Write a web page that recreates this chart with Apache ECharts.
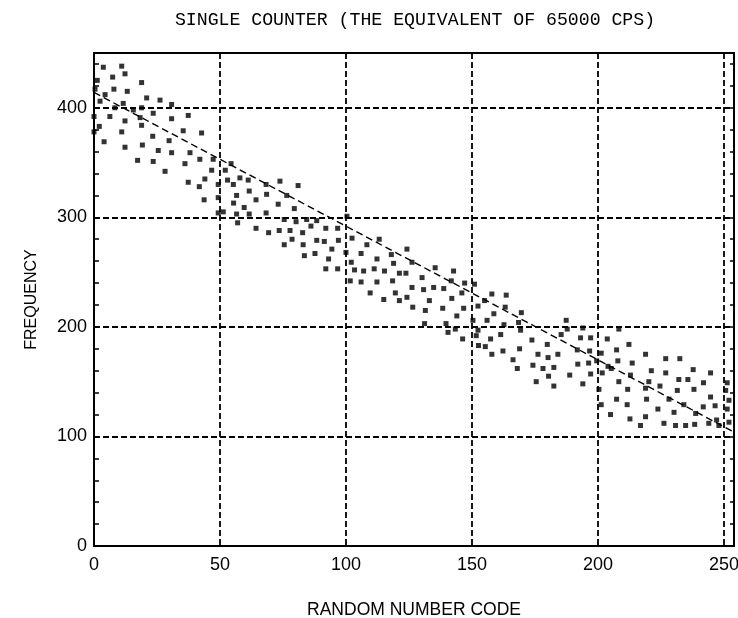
<!DOCTYPE html>
<html>
<head>
<meta charset="utf-8">
<script src="https://cdn.jsdelivr.net/npm/echarts@6/dist/echarts.min.js"></script>
<style>
html,body{margin:0;padding:0;background:#fff;}
#chart{width:738px;height:618px;}
</style>
</head>
<body>
<div id="chart"></div>
<script>
// Random number code (x) of each plotted point
const codes = [
  3.7,11,12.3,7.4,1.3,18.9,0.4,7.9,13.2,4.4,20.9,26.2,2.4,11.6,30.8,18.9,8.3,15.6,0,6.3,23.5,18.3,37.4,12.3,30.8,2.1,18.9,0,11,35.4,42.7,23.3,29.8,4,19.2,12.3,25.5,38.1,30.8,17.3,23.5,42,47.3,36.1,28.2,46.7,44,37.4,41.8,43.7,49.3,49.3,49.3,
  54.4,52.1,57.9,53,61.2,68.3,73.8,81,55.3,61.6,68.5,76.5,56.6,64.3,55.4,73.1,59.6,79.5,51.3,68.3,61.6,56.6,57,75.5,80.2,84.4,88.4,64.3,69.3,73.5,77.8,82.8,86.1,92,96.7,78.6,75.5,83,88.4,91.4,97,94.4,83.5,87.7,93.1,92,96.7,
  100.4,102.4,108.3,113.2,100,106,112.3,118,124.2,102.1,118.9,126.2,103.4,107,111.2,115.3,121.2,123.8,130.2,135.4,142.7,101.7,106,112.3,118.5,126.2,130.8,134.8,138.8,141.8,147.1,109.6,119.6,115,121.2,124.2,133.1,142,146,126.5,131.5,138.4,146.7,144,131.2,139.7,143.4,140.5,146.3,
  151,157.9,163.6,155,152.4,163.2,158.7,169.6,150.4,156,162.7,168.5,169.3,152.4,187.4,187.8,194,151.7,157.4,161.4,173.8,185.4,193.1,197.1,152.6,155.3,179.9,162.3,168.9,184.1,157.9,176.2,180.2,191.8,196.7,166.3,168,174.2,178.2,182.5,192,196.3,188.8,180.4,197.1,175.5,182.5,194,
  208.3,203.7,207.4,212.3,201.3,218.9,199.5,207.9,213.6,226.9,232.5,204,205.3,201.7,221.2,226.9,237.8,244.7,212.9,208.3,220.2,232.1,235.7,241.9,251.3,200.4,211.8,218.9,224.6,231.5,238.1,250.7,219.3,228.2,244.7,252,207.4,201.3,211.6,234.1,241.8,246.5,223.8,230.2,238.8,251.3,205,218.9,212.7,216.9,226.2,230.8,234.8,238.4,244,247.1,248,252
];
// Frequency of each plotted point
const freq = [
  437,438,431,428,425,423,417,417,415,412,409,407,406,404,403,400,400,398,392,392,395,391,393,388,390,383,384,378,378,379,377,374,370,369,366,364,361,359,359,352,351,353,353,349,342,343,335,332,328,316,318,330,304,
  349,343,336,334,334,330,333,329,330,324,321,320,320,316,313,312,309,308,305,304,303,303,295,298,296,298,297,290,286,288,288,286,292,290,290,280,275,275,279,278,279,271,265,267,262,253,253,
  301,281,275,280,268,267,262,266,271,259,258,259,252,251,253,251,249,249,245,254,251,242,241,241,242,236,234,236,235,242,240,231,231,225,224,227,224,226,231,218,215,217,217,210,203,203,198,195,189,
  239,230,229,224,219,218,212,213,206,206,202,204,197,197,206,198,199,192,189,193,188,193,190,190,183,182,184,178,180,175,175,175,172,179,178,170,162,165,162,163,166,167,156,155,157,150,146,148,
  198,189,179,184,176,175,169,169,167,171,171,164,162,158,160,158,161,158,156,150,150,152,152,149,149,143,143,144,146,142,143,142,134,134,136,133,134,129,129,129,127,128,125,122,121,125,120,118,116,110,112,110,110,111,112,115,110,113
];
// Dashed trend line end points
const trendCodes = [0, 254];
const trendFreq = [414, 104];
// Tick label values
const xTicks = [0, 50, 100, 150, 200, 250];
const yTicks = [0, 100, 200, 300, 400];

const points = codes.map((c, i) => [c, freq[i]]);
const trend = trendCodes.map((c, i) => [c, trendFreq[i]]);

const chart = echarts.init(document.getElementById('chart'), null, {renderer: 'canvas'});
const labelFont = {color: '#000', fontFamily: 'Liberation Sans, Arial, sans-serif', fontSize: 18};
const gridLine = {show: true, lineStyle: {color: '#000', width: 1.8, type: [6, 3]}};

chart.setOption({
  animation: false,
  backgroundColor: '#fff',
  title: {
    text: 'SINGLE COUNTER (THE EQUIVALENT OF 65000 CPS)',
    left: 410, top: 6, textAlign: 'center',
    textStyle: {color: '#000', fontFamily: 'Liberation Mono, DejaVu Sans Mono, monospace', fontSize: 18.2, fontWeight: 'normal'}
  },
  grid: {left: 94, right: 4, top: 53, bottom: 72, containLabel: false, outerBoundsMode: 'none',
    show: true, borderColor: '#000', borderWidth: 2, backgroundColor: 'transparent'},
  xAxis: {
    type: 'value', min: 0, max: 254, interval: 50,
    name: 'RANDOM NUMBER CODE', nameLocation: 'middle', nameGap: 55,
    nameTextStyle: {color: '#000', fontFamily: 'Liberation Sans, Arial, sans-serif', fontSize: 17.5},
    axisLine: {show: true, lineStyle: {color: '#000', width: 2}},
    axisTick: {show: false},
    axisLabel: Object.assign({margin: 10, showMaxLabel: false,
      formatter: v => xTicks.includes(v) ? String(v) : ''}, labelFont),
    splitLine: gridLine
  },
  yAxis: [
    {
      type: 'value', min: 0, max: 450, interval: 100, position: 'left',
      name: 'FREQUENCY', nameLocation: 'middle', nameGap: 54, nameRotate: 90,
      nameTextStyle: {color: '#000', fontFamily: 'Liberation Sans, Arial, sans-serif', fontSize: 16},
      axisLine: {show: true, lineStyle: {color: '#000', width: 2}},
      axisTick: {show: false},
      axisLabel: Object.assign({margin: 7, showMaxLabel: false,
        formatter: v => yTicks.includes(v) ? String(v) : ''}, labelFont),
      splitLine: gridLine
    },
    {
      type: 'value', min: 0, max: 450, interval: 20, position: 'left',
      axisLine: {show: false}, axisLabel: {show: false}, splitLine: {show: false},
      axisTick: {show: true, inside: true, length: 5, lineStyle: {color: '#000', width: 1.5}}
    },
    {
      type: 'value', min: 0, max: 450, interval: 20, position: 'right',
      axisLine: {show: true, lineStyle: {color: '#000', width: 2}}, axisLabel: {show: false}, splitLine: {show: false},
      axisTick: {show: true, inside: true, length: 4, lineStyle: {color: '#000', width: 1.5}}
    }
  ],
  series: [
    {
      type: 'line', data: trend, yAxisIndex: 0, symbol: 'none', silent: true,
      lineStyle: {color: '#000', width: 1.4, type: [7, 4]}
    },
    {
      type: 'scatter', data: points, yAxisIndex: 0, symbol: 'rect', symbolSize: 5,
      itemStyle: {color: '#000'}
    }
  ]
});
</script>
</body>
</html>
